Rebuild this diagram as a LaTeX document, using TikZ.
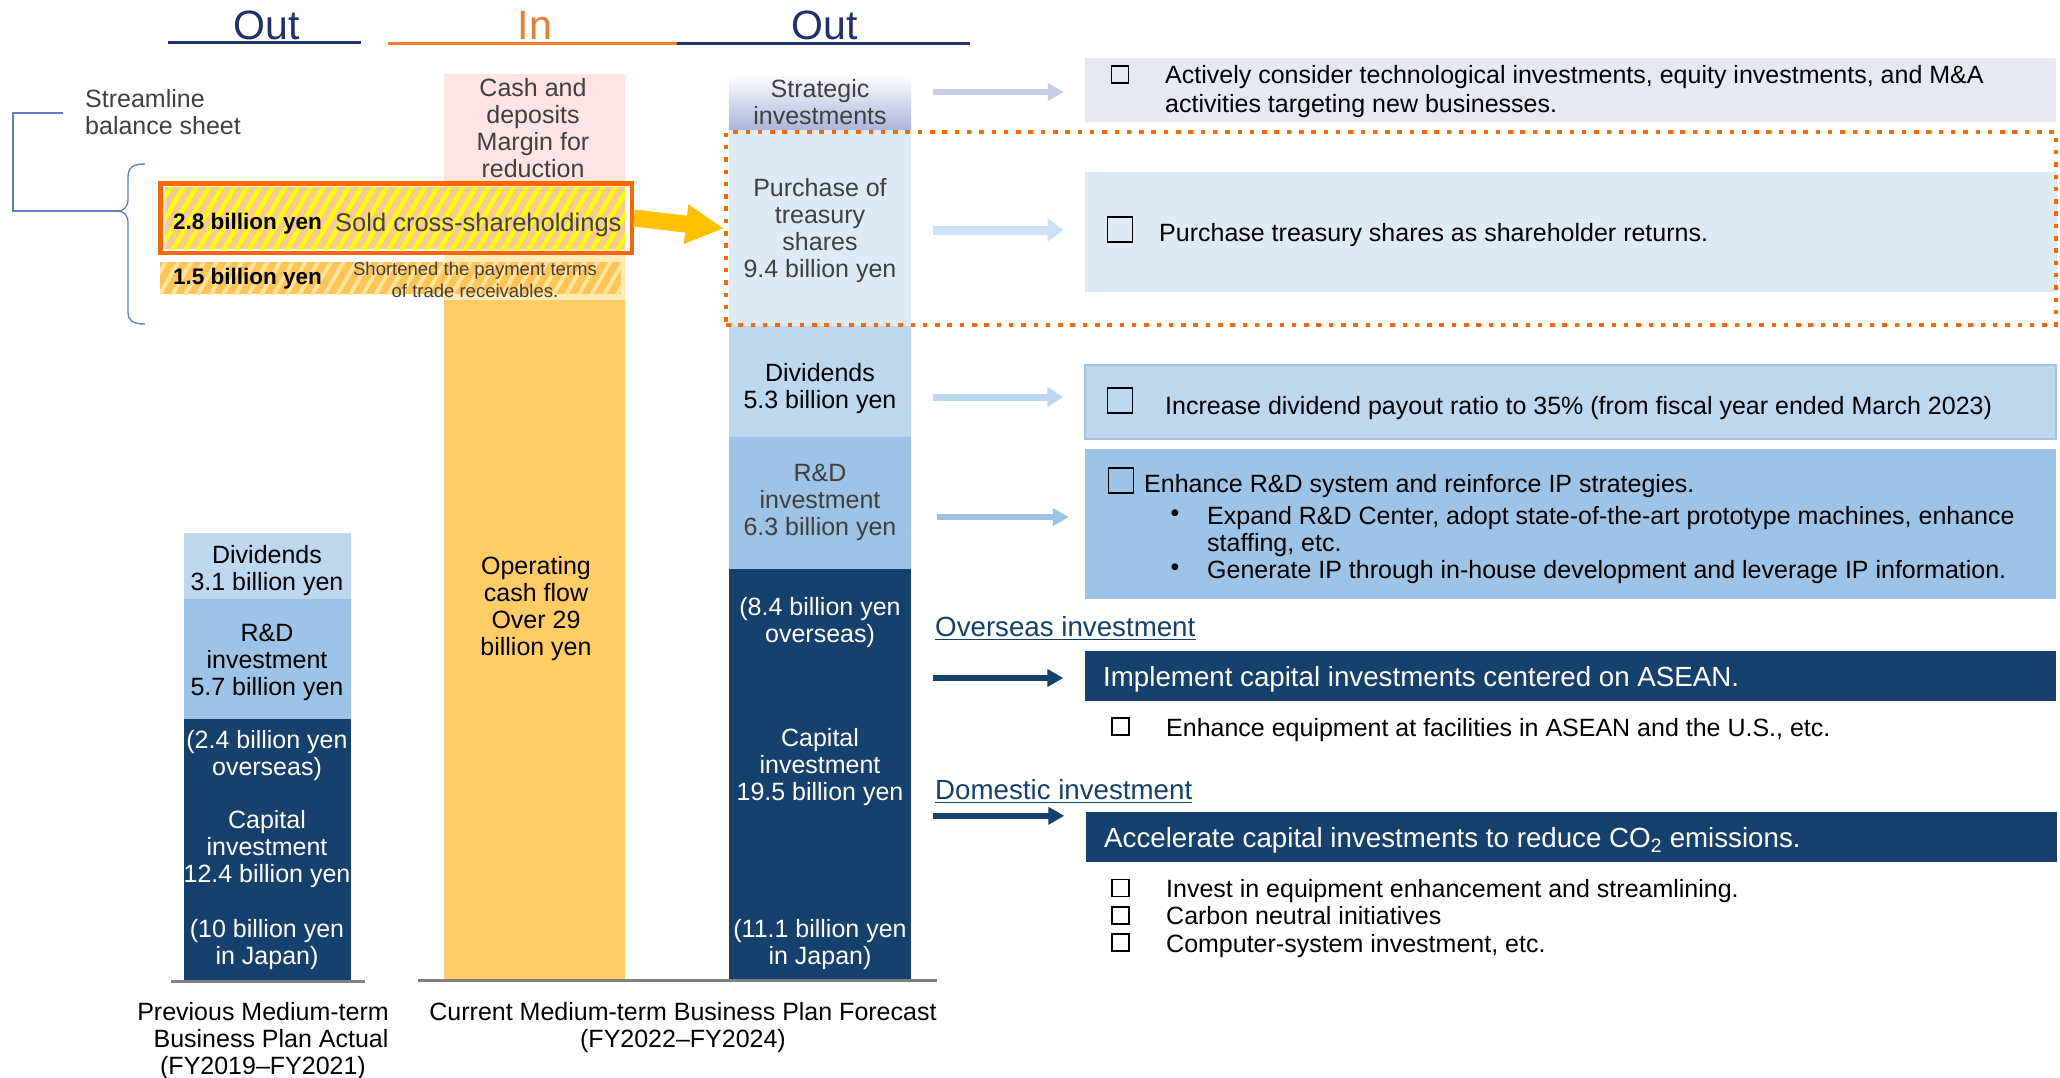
\documentclass[tikz,border=0pt]{standalone}
\usepackage{fontspec}
\setmainfont{Liberation Sans}
\usetikzlibrary{positioning,arrows.meta,patterns.meta,calc}

\definecolor{navyT}{RGB}{32,50,110}
\definecolor{orangeT}{RGB}{237,125,49}
\definecolor{navyB}{RGB}{22,64,110}
\definecolor{blueA}{RGB}{221,235,247}
\definecolor{blueB}{RGB}{189,215,238}
\definecolor{blueC}{RGB}{157,195,230}
\definecolor{blueArr}{RGB}{205,224,244}
\definecolor{lavA}{RGB}{230,232,244}
\definecolor{lavB}{RGB}{169,180,218}
\definecolor{lavArr}{RGB}{200,205,232}
\definecolor{pinkC}{RGB}{255,228,228}
\definecolor{paleY}{RGB}{255,236,182}
\definecolor{cashY}{RGB}{255,204,102}
\definecolor{goldA}{RGB}{255,192,0}
\definecolor{frameO}{RGB}{255,102,0}
\definecolor{peachH}{RGB}{250,202,150}
\definecolor{ambH}{RGB}{255,196,84}
\definecolor{ambL}{RGB}{255,228,155}
\definecolor{grayT}{RGB}{64,64,64}
\definecolor{floorG}{RGB}{128,128,128}
\definecolor{brkB}{RGB}{96,126,190}

\newcommand{\fsz}[2]{\fontsize{#1}{#2}\selectfont}

\tikzset{
  txt/.style={inner sep=0pt, align=center, font=\fsz{25}{27}},
  lefttxt/.style={inner sep=0pt, align=left, anchor=west, font=\fsz{25}{27}},
  hdr/.style={inner sep=0pt, font=\fsz{41}{44}},
  amount/.style={inner sep=0pt, anchor=west, font=\bfseries\fsz{22.5}{25}},
  sect/.style={inner sep=0pt, anchor=west, text=navyB, font=\fsz{27.7}{30}},
  goal/.style={inner sep=0pt, anchor=west, text=white, font=\fsz{27.7}{30}},
  rbox/.style={minimum width=971, inner sep=0pt},
  chkS/.style={draw=black, line width=1.3, minimum width=17, minimum height=17, inner sep=0pt},
  chkL/.style={draw=black, line width=1.8, minimum width=25, minimum height=25, inner sep=0pt},
  flow/.style={-{Triangle[length=16pt,width=#1]}, line width=6, shorten <=22pt, shorten >=21pt},
  flow/.default=17pt,
  floorline/.style={floorG, line width=3},
}

\begin{document}
\begin{tikzpicture}[x=1pt,y=-1pt]
\useasboundingbox (0,0) rectangle (2060,1077);
\fill[white] (0,0) rectangle (2060,1077);

% headings
\node[hdr, text=navyT] (outL) at (267,25) {Out};
\node[hdr, text=orangeT] (inM) at (535,25) {In};
\node[hdr, text=navyT] (outR) at (825,25) {Out};
\draw[navyT, line width=3] (168,42) -- (361,42);
\draw[orangeT, line width=3] (388,43) -- (677,43);
\draw[navyT, line width=3] (677,43) -- (970,43);

% streamline balance sheet
\node[lefttxt, text=grayT] (slim) at (85,112.5) {Streamline\\balance sheet};
\draw[brkB, line width=1.3] (63,113) -- (13,113) -- (13,211) -- (119,211);
\draw[brkB, line width=1.3] (145,164) .. controls (132,164) and (128,168) .. (128,178)
  -- (128,199) .. controls (128,207) and (124,211) .. (117,211)
  .. controls (124,211) and (128,215) .. (128,223)
  -- (128,312) .. controls (128,320) and (132,324) .. (145,324);

% previous plan
\fill[blueB] (184,533) rectangle (351,599);
\fill[blueC] (184,599) rectangle (351,719);
\fill[navyB] (184,719) rectangle (351,980);
\draw[floorline] (171,981) -- (365,981);
\node[txt] (divL) at (267,571) {Dividends\\3.1 billion yen};
\node[txt] (rndL) at (267,662) {R\&D\\investment\\5.7 billion yen};
\node[txt, text=white] (ovsL) at (267,756) {(2.4 billion yen\\overseas)};
\node[txt, text=white] (capL) at (267,849) {Capital\\investment\\12.4 billion yen};
\node[txt, text=white] (jpL) at (267,945) {(10 billion yen\\in Japan)};
\node[txt] (prevLbl) at (263,1041) {Previous Medium-term\\\hspace*{16pt}Business Plan Actual\\(FY2019--FY2021)};

% cash in
\fill[pinkC] (444,74) rectangle (625,180);
\fill[paleY] (444,180) rectangle (625,300);
\fill[cashY] (444,300) rectangle (625,979);
\node[txt, text=grayT] (cashT) at (533,128) {Cash and\\deposits\\Margin for\\reduction};
\node[txt] (opT) at (536,609) {Operating\\cash flow\\Over 29\\billion yen};

% hatched bars
\fill[peachH] (165,187) rectangle (625,249);
\fill[pattern={Lines[angle=60,distance=11pt,line width=4.5pt]}, pattern color=yellow] (165,187) rectangle (625,249);
\node[draw=frameO, line width=4.5, minimum width=471.5, minimum height=69.5, inner sep=0pt] (soldBar) at (396,218) {};
\fill[ambH] (160,262) rectangle (621,294);
\fill[pattern={Lines[angle=60,distance=11pt,line width=4pt]}, pattern color=ambL] (160,262) rectangle (621,294);
\node[amount] (amtA) at (173,224) {2.8 billion yen};
\node[inner sep=0pt, anchor=west, text=grayT, font=\fsz{25.5}{27}] (soldT) at (335,225) {Sold cross-shareholdings};
\node[amount] (amtB) at (173,279) {1.5 billion yen};
\node[txt, text=grayT, font=\fsz{18.5}{22}] (termsT) at (475,280) {Shortened the payment terms\\of trade receivables.};

% cash out
\shade[top color=white, middle color=lavA, bottom color=lavB] (729,74) rectangle (911,130);
\fill[blueA] (729,130) rectangle (911,326);
\fill[blueB] (729,326) rectangle (911,437);
\fill[blueC] (729,437) rectangle (911,569);
\fill[navyB] (729,569) rectangle (911,979);
\draw[floorline] (418,980) -- (937,980);
\node[txt, text=grayT] (stratT) at (820,102) {Strategic\\investments};
\node[txt, text=grayT] (treasT) at (820,231) {Purchase of\\treasury\\shares\\9.4 billion yen};
\node[txt] (divR) at (820,389) {Dividends\\5.3 billion yen};
\node[txt, text=grayT] (rndR) at (820,502) {R\&D\\investment\\6.3 billion yen};
\node[txt, text=white] (ovsR) at (820,623) {(8.4 billion yen\\overseas)};
\node[txt, text=white] (capR) at (820,767) {Capital\\investment\\19.5 billion yen};
\node[txt, text=white] (jpR) at (820,945) {(11.1 billion yen\\in Japan)};
\node[txt] (curLbl) at (683,1028) {Current Medium-term Business Plan Forecast\\(FY2022--FY2024)};

% measures
\node[rbox, fill=lavA, minimum height=64] (stratBox) at (1570.5,90) {};
\node[rbox, fill=blueA, draw=blueB!60, line width=1, minimum height=119] (treasBox) at (1570.5,231.5) {};
\node[rbox, fill=blueB, draw=blueC, line width=1.5, minimum height=74] (divBox) at (1570.5,402) {};
\node[rbox, fill=blueC, minimum height=150] (rndBox) at (1570.5,524) {};
\node[rbox, fill=navyB, minimum height=50] (ovsBox) at (1570,676) {};
\node[rbox, fill=navyB, minimum height=50] (domBox) at (1571,837) {};

\node[chkS] (ck1) at (1120,74.5) {};
\node[lefttxt, font=\fsz{25}{29}] (t1) at (1165,92) {Actively consider technological investments, equity investments, and M\&A\\activities targeting new businesses.};
\node[chkL] (ck2) at (1120,229.5) {};
\node[lefttxt] (t2) at (1159,235) {Purchase treasury shares as shareholder returns.};
\node[chkL] (ck3) at (1120,400.5) {};
\node[lefttxt] (t3) at (1165,408) {Increase dividend payout ratio to 35\% (from fiscal year ended March 2023)};
\node[chkL] (ck4) at (1121,480.5) {};
\node[lefttxt] (t4) at (1144,486) {Enhance R\&D system and reinforce IP strategies.};
\node[txt] (bl1) at (1175,516) {•};
\node[lefttxt] (b1) at (1207,531.5) {Expand R\&D Center, adopt state-of-the-art prototype machines, enhance\\staffing, etc.};
\node[txt] (bl2) at (1175,570) {•};
\node[lefttxt] (b2) at (1207,572) {Generate IP through in-house development and leverage IP information.};

\node[sect] (ovsHd) at (935,627) {Overseas investment};
\draw[navyB, line width=1.5] ($(ovsHd.base west)+(0,2.5)$) -- ($(ovsHd.base east)+(0,2.5)$);
\node[goal] (g1) at (1103,679) {Implement capital investments centered on ASEAN.};
\node[chkS] (ck5) at (1120.5,726.5) {};
\node[lefttxt] (e1) at (1166,730) {Enhance equipment at facilities in ASEAN and the U.S., etc.};

\node[sect] (domHd) at (935,790) {Domestic investment};
\draw[navyB, line width=1.5] ($(domHd.base west)+(0,2.5)$) -- ($(domHd.base east)+(0,2.5)$);
\node[goal] (g2) at (1104,840) {Accelerate capital investments to reduce CO\textsubscript{2} emissions.};
\node[chkS] (ck6) at (1120.5,888) {};
\node[chkS] (ck7) at (1120.5,915.5) {};
\node[chkS] (ck8) at (1120.5,942.5) {};
\node[lefttxt, font=\fsz{25}{27.5}] (e2) at (1166,918.5) {Invest in equipment enhancement and streamlining.\\Carbon neutral initiatives\\Computer-system investment, etc.};

% focus frame and arrows
\node[draw=frameO, line width=4.5, dash pattern=on 4.5pt off 7.8pt, minimum width=1330, minimum height=193, inner sep=0pt] (focus) at (1391,228.5) {};
\draw[goldA, line width=17, -{Triangle[length=38pt,width=37pt]}] (soldBar.east) -- (focus.west);

\coordinate (colR) at (911,0);
\coordinate (a1) at ($(stratBox.west)+(0,2)$);
\coordinate (a2) at ($(treasBox.west)+(0,-1.5)$);
\coordinate (a3) at ($(divBox.west)+(0,-5)$);
\coordinate (a4) at ($(rndBox.west)+(0,-7)$);
\coordinate (a5) at ($(ovsBox.west)+(0,2)$);
\coordinate (a6) at ($(domBox.north west)+(0,4)$);
\draw[flow, lavArr, line width=5.5] (colR |- a1) -- (a1);
\draw[flow=22pt, blueArr, line width=9] (colR |- a2) -- (a2);
\draw[flow=19pt, blueB, line width=7] (colR |- a3) -- (a3);
\draw[flow, blueC, shorten <=26pt, shorten >=16pt] (colR |- a4) -- (a4);
\draw[flow, navyB] (colR |- a5) -- (a5);
\draw[flow, navyB] (colR |- a6) -- (a6);
\end{tikzpicture}
\end{document}
